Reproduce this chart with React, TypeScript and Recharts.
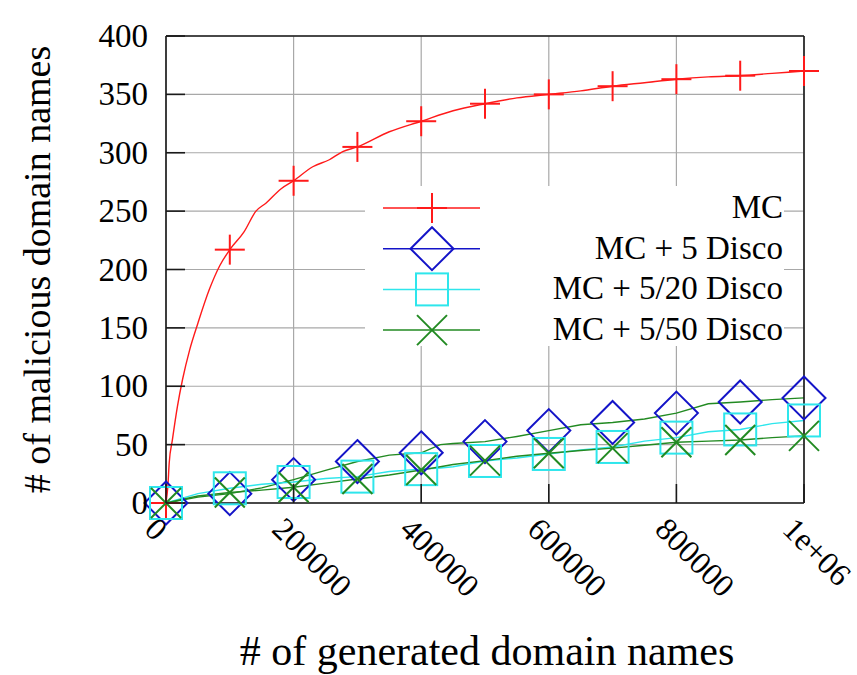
import React from 'react';
import { ComposedChart, Line, XAxis, YAxis, CartesianGrid, Legend } from 'recharts';

// ---- data ----
const xTicks = [0, 200000, 400000, 600000, 800000, 1000000];
const xTickLabels = ['0', '200000', '400000', '600000', '800000', '1e+06'];
const yTicks = [0, 50, 100, 150, 200, 250, 300, 350, 400];
const markerX = [0, 100000, 200000, 300000, 400000, 500000, 600000, 700000, 800000, 900000, 1000000];

const mcX = [0, 3000, 5000, 10000, 18000, 26000, 37000, 50000, 68000, 84000, 100000, 122000, 141000, 157000, 180000, 200000, 230000, 256000, 277000, 300000, 350000, 400000, 450000, 500000, 550000, 600000, 650000, 700000, 750000, 800000, 850000, 900000, 950000, 1000000];
const mcY = [0, 15, 34, 54, 83, 106, 131, 154, 183, 203, 217, 232, 250, 257, 269, 276, 288, 294, 301, 305, 318, 327, 336, 342, 347, 350, 353, 357, 360, 363, 365, 366, 368, 370];

const discoX = [0, 50000, 100000, 150000, 200000, 250000, 300000, 350000, 400000, 430000, 450000, 500000, 550000, 600000, 650000, 700000, 750000, 800000, 850000, 900000, 950000, 1000000];
const disco5 = [0, 5, 8, 13, 20, 28, 35.5, 41, 43, 50, 51, 52.6, 57, 62, 67, 69, 72, 77, 85, 86.5, 88.5, 90];
const disco520 = [0, 8, 12.6, 16, 18, 21, 22.6, 27, 29, 30, 31, 36, 38.6, 42, 45.5, 48, 53, 56, 61, 63, 68, 70.7];
const disco550 = [0, 6, 9, 11, 13.5, 17, 20.6, 24, 28.3, 31, 33, 36.3, 40, 42.6, 45, 47, 49.5, 52, 53, 54, 56, 57.5];

const seriesNames = ['MC', 'MC + 5 Disco', 'MC + 5/20 Disco', 'MC + 5/50 Disco'];

const FONT = "'Liberation Serif', LiberationSerif, Tinos, 'Nimbus Roman', 'Nimbus Roman No9 L', FreeSerif, 'Noto Serif', 'DejaVu Serif', Times, 'Times New Roman', serif";
const RED = '#ff1a1a';
const BLUE = '#1414c8';
const CYAN = '#2ee6ec';
const GREEN = '#228a22';
const FRAME = '#1a1a1a';

const toRows = (xs: number[], ys: number[]) => xs.map((x, i) => ({ x, y: ys[i] }));
const mcData = toRows(mcX, mcY);
const d5Data = toRows(discoX, disco5);
const d520Data = toRows(discoX, disco520);
const d550Data = toRows(discoX, disco550);

type Kind = 'plus' | 'diamond' | 'square' | 'cross';

function Marker({ kind, cx, cy, color }: { kind: Kind; cx: number; cy: number; color: string }) {
  const sw = 2;
  if (kind === 'plus') {
    const h = 15;
    return (
      <g>
        <line x1={cx - h} x2={cx + h} y1={cy} y2={cy} stroke={color} strokeWidth={sw} />
        <line x1={cx} x2={cx} y1={cy - h} y2={cy + h} stroke={color} strokeWidth={sw} />
      </g>
    );
  }
  if (kind === 'diamond') {
    const h = 21.5;
    return (
      <polygon
        points={`${cx},${cy - h} ${cx + h},${cy} ${cx},${cy + h} ${cx - h},${cy}`}
        fill="none"
        stroke={color}
        strokeWidth={sw}
      />
    );
  }
  if (kind === 'square') {
    const h = 16;
    return <rect x={cx - h} y={cy - h} width={2 * h} height={2 * h} fill="none" stroke={color} strokeWidth={sw} />;
  }
  const h = 15;
  return (
    <g>
      <line x1={cx - h} x2={cx + h} y1={cy - h} y2={cy + h} stroke={color} strokeWidth={sw} />
      <line x1={cx - h} x2={cx + h} y1={cy + h} y2={cy - h} stroke={color} strokeWidth={sw} />
    </g>
  );
}

const makeDot = (kind: Kind, color: string) => (props: any) => {
  const { cx, cy, payload, index } = props;
  const k = `dot-${kind}-${index}`;
  if (!payload || !markerX.includes(payload.x) || cx == null || cy == null) return <g key={k} />;
  return (
    <g key={k}>
      <Marker kind={kind} cx={cx} cy={cy} color={color} />
    </g>
  );
};

const TICK_LEN = 19;
const textStyle = { fontFamily: FONT };

const LeftTick = (props: any) => {
  const { x, y, payload } = props;
  return (
    <g>
      <line x1={x} x2={x + TICK_LEN} y1={y} y2={y} stroke={FRAME} strokeWidth={1.6} />
      <text x={x - 18} y={y} dy={11} textAnchor="end" fontSize={33} style={textStyle} fill="#000">
        {payload.value}
      </text>
    </g>
  );
};

const RightTick = (props: any) => {
  const { x, y } = props;
  return <line x1={x - TICK_LEN} x2={x} y1={y} y2={y} stroke={FRAME} strokeWidth={1.6} />;
};

const BottomTick = (props: any) => {
  const { x, y, payload } = props;
  const idx = xTicks.indexOf(payload.value);
  const label = idx >= 0 ? xTickLabels[idx] : String(payload.value);
  const ax = x - 23;
  const ay = y + 28;
  return (
    <g>
      <line x1={x} x2={x} y1={y - TICK_LEN} y2={y} stroke={FRAME} strokeWidth={1.6} />
      <text
        x={ax}
        y={ay}
        transform={`rotate(45, ${ax}, ${ay})`}
        textAnchor="start"
        fontSize={32}
        style={textStyle}
        fill="#000"
      >
        {label}
      </text>
    </g>
  );
};

const TopTick = (props: any) => {
  const { x, y } = props;
  return <line x1={x} x2={x} y1={y} y2={y + TICK_LEN} stroke={FRAME} strokeWidth={1.6} />;
};

const XTitle = (props: any) => {
  const vb = props.viewBox || { x: 166, y: 503, width: 638, height: 172 };
  return (
    <text x={vb.x + vb.width / 2 + 2} y={vb.y + 162} textAnchor="middle" fontSize={42} style={textStyle} fill="#000">
      # of generated domain names
    </text>
  );
};

const YTitle = (props: any) => {
  const vb = props.viewBox || { x: 0, y: 36, width: 166, height: 467 };
  const cx = vb.x + 50;
  const cy = vb.y + vb.height / 2;
  return (
    <text
      x={cx}
      y={cy}
      transform={`rotate(-90, ${cx}, ${cy})`}
      textAnchor="middle"
      fontSize={38}
      style={textStyle}
      fill="#000"
    >
      # of malicious domain names
    </text>
  );
};

const legendItems: { name: string; color: string; kind: Kind }[] = [
  { name: seriesNames[0], color: RED, kind: 'plus' },
  { name: seriesNames[1], color: BLUE, kind: 'diamond' },
  { name: seriesNames[2], color: CYAN, kind: 'square' },
  { name: seriesNames[3], color: GREEN, kind: 'cross' },
];

const renderLegend = () => (
  <svg width={419} height={160} style={{ display: 'block' }}>
    {legendItems.map((it, i) => {
      const cy = 22 + i * 40.7;
      return (
        <g key={it.name}>
          <line x1={18} x2={115} y1={cy} y2={cy} stroke={it.color} strokeWidth={1.5} />
          <Marker kind={it.kind} cx={67} cy={cy} color={it.color} />
          <text x={418} y={cy + 10} textAnchor="end" fontSize={33} style={textStyle} fill="#000">
            {it.name}
          </text>
        </g>
      );
    })}
  </svg>
);

export default function App() {
  return (
    <div style={{ position: 'absolute', left: 0, top: 0, background: '#fff', fontFamily: FONT }}>
      <ComposedChart width={857} height={675} margin={{ top: 0, right: 0, bottom: 0, left: 0 }}>
        <CartesianGrid stroke="#a8a8a8" strokeWidth={1.2} />
        <XAxis
          xAxisId={0}
          dataKey="x"
          type="number"
          domain={[0, 1000000]}
          ticks={xTicks}
          height={172}
          tickSize={0}
          tickMargin={0}
          tickLine={false}
          axisLine={{ stroke: FRAME, strokeWidth: 1.6 }}
          tick={BottomTick}
          interval={0}
          label={<XTitle />}
        />
        <XAxis
          xAxisId="top"
          orientation="top"
          dataKey="x"
          type="number"
          domain={[0, 1000000]}
          ticks={xTicks}
          height={36}
          tickSize={0}
          tickMargin={0}
          tickLine={false}
          axisLine={{ stroke: FRAME, strokeWidth: 1.6 }}
          tick={TopTick}
          interval={0}
        />
        <YAxis
          yAxisId={0}
          type="number"
          domain={[0, 400]}
          ticks={yTicks}
          width={166}
          tickSize={0}
          tickMargin={0}
          tickLine={false}
          axisLine={{ stroke: FRAME, strokeWidth: 1.6 }}
          tick={LeftTick}
          interval={0}
          label={<YTitle />}
        />
        <YAxis
          yAxisId="r"
          orientation="right"
          type="number"
          domain={[0, 400]}
          ticks={yTicks}
          width={53}
          tickSize={0}
          tickMargin={0}
          tickLine={false}
          axisLine={{ stroke: FRAME, strokeWidth: 1.6 }}
          tick={RightTick}
          interval={0}
        />
        <Legend
          layout="vertical"
          align="center"
          verticalAlign="middle"
          content={renderLegend}
          wrapperStyle={{ position: 'absolute', left: 365, top: 186, width: 419, height: 160, background: '#fff', margin: 0, padding: 0 }}
        />
        <Line
          data={mcData}
          dataKey="y"
          name={seriesNames[0]}
          type="monotone"
          stroke={RED}
          strokeWidth={1.4}
          dot={makeDot('plus', RED)}
          activeDot={false}
          isAnimationActive={false}
        />
        <Line
          data={d5Data}
          dataKey="y"
          name={seriesNames[1]}
          type="linear"
          stroke={GREEN}
          strokeWidth={1.4}
          dot={makeDot('diamond', BLUE)}
          activeDot={false}
          isAnimationActive={false}
        />
        <Line
          data={d520Data}
          dataKey="y"
          name={seriesNames[2]}
          type="linear"
          stroke={CYAN}
          strokeWidth={1.4}
          dot={makeDot('square', CYAN)}
          activeDot={false}
          isAnimationActive={false}
        />
        <Line
          data={d550Data}
          dataKey="y"
          name={seriesNames[3]}
          type="linear"
          stroke={GREEN}
          strokeWidth={1.4}
          dot={makeDot('cross', GREEN)}
          activeDot={false}
          isAnimationActive={false}
        />
      </ComposedChart>
    </div>
  );
}
